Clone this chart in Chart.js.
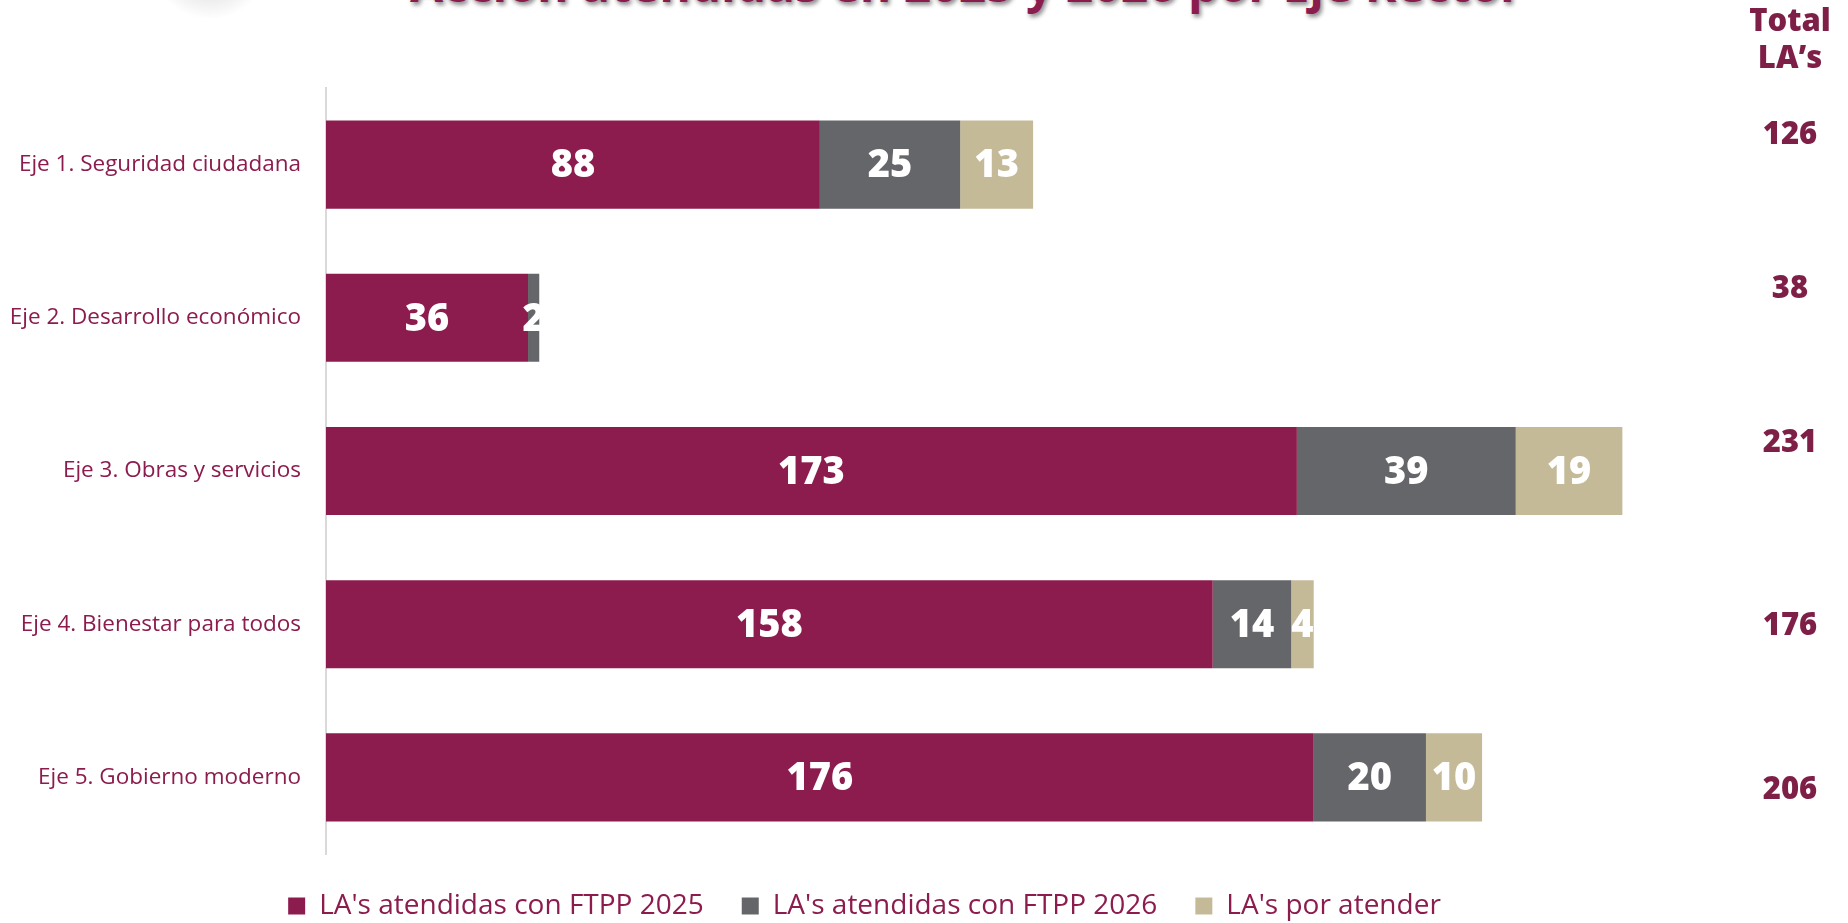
<!DOCTYPE html>
<html lang="es">
<head>
<meta charset="utf-8">
<title>LA's atendidas por Eje Rector</title>
<script src="https://cdn.jsdelivr.net/npm/chart.js@4.4.1/dist/chart.umd.min.js"></script>
<style>
  html, body { margin: 0; padding: 0; background: #fff; overflow: hidden; }
  #titulo {
    position: absolute; top: -40px; left: 0; width: 1932px;
    text-align: center; font: 700 48px/48px "Open Sans", sans-serif;
    color: #8b1c4e; text-shadow: 2px 3px 4px rgba(0,0,0,0.45);
    white-space: nowrap;
  }
  #logo {
    position: absolute; left: 150px; top: -100px; width: 120px; height: 120px;
    border-radius: 50%;
    background: radial-gradient(circle, rgba(120,120,120,0.5) 0%, rgba(160,160,160,0.2) 45%, rgba(255,255,255,0) 70%);
  }
  #contenedor { position: absolute; top: 0; left: 0; width: 1848px; height: 930px; }
</style>
</head>
<body>
<div id="logo"></div>
<div id="titulo">Acción atendidas en 2025 y 2026 por Eje Rector</div>
<div id="contenedor"><canvas id="grafico"></canvas></div>
<script>
// Datos del gráfico
const categorias = [
  "Eje 1. Seguridad ciudadana",
  "Eje 2. Desarrollo económico",
  "Eje 3. Obras y servicios",
  "Eje 4. Bienestar para todos",
  "Eje 5. Gobierno moderno"
];
const atendidas2025 = [88, 36, 173, 158, 176];
const atendidas2026 = [25, 2, 39, 14, 20];
const porAtender = [13, 0, 19, 4, 10];
const totales = [126, 38, 231, 176, 206];

const GUINDA = "#8c1c4e";
const TEXTO = "#7e1f47";

// Desplazamiento vertical de los totales respecto a cada barra
const desplazaTotales = [-29, -29, -28, 2, 13];

// Plugin: números dentro de las barras y columna de totales
const etiquetasPlugin = {
  id: "etiquetas",
  afterDatasetsDraw(chart) {
    const ctx = chart.ctx;
    ctx.save();
    ctx.font = "800 38px 'Open Sans'";
    ctx.fillStyle = "#fff";
    ctx.textAlign = "center";
    ctx.textBaseline = "middle";
    chart.data.datasets.forEach((ds, i) => {
      chart.getDatasetMeta(i).data.forEach((bar, j) => {
        const v = ds.data[j];
        if (!v) return;
        ctx.fillText(v, (bar.x + bar.base) / 2, bar.y + 2);
      });
    });

    // Totales a la derecha
    const y = chart.scales.y;
    const xTot = 1790;
    ctx.fillStyle = TEXTO;
    ctx.font = "800 31px 'Open Sans'";
    ctx.fillText("Total", xTot, 22);
    ctx.fillText("LA’s", xTot, 59);
    totales.forEach((t, j) => {
      ctx.fillText(t, xTot, y.getPixelForValue(j) + desplazaTotales[j]);
    });
    ctx.restore();
  }
};

const ctx = document.getElementById("grafico").getContext("2d");
new Chart(ctx, {
  type: "bar",
  data: {
    labels: categorias,
    datasets: [
      { label: "LA's atendidas con FTPP 2025", data: atendidas2025, backgroundColor: GUINDA },
      { label: "LA's atendidas con FTPP 2026", data: atendidas2026, backgroundColor: "#65666a" },
      { label: "LA's por atender", data: porAtender, backgroundColor: "#c4ba98" }
    ]
  },
  options: {
    indexAxis: "y",
    responsive: true,
    maintainAspectRatio: false,
    animation: false,
    layout: { padding: { top: 88, right: 119, left: 0, bottom: 0 } },
    datasets: { bar: { categoryPercentage: 1, barPercentage: 0.575, borderWidth: 0 } },
    scales: {
      x: { stacked: true, display: false, min: 0, max: 250 },
      y: {
        stacked: true,
        grid: { drawOnChartArea: false, drawTicks: false },
        border: { display: true, color: "#d9d9d9", width: 2 },
        ticks: { color: GUINDA, padding: 25, font: { family: "Open Sans", size: 22.5 } },
        afterFit: (scale) => { scale.width = 326; }
      }
    },
    plugins: {
      legend: {
        position: "bottom",
        labels: {
          boxWidth: 17,
          boxHeight: 17,
          padding: 38,
          color: GUINDA,
          font: { family: "Open Sans", size: 28 }
        }
      },
      tooltip: { enabled: false }
    }
  },
  plugins: [etiquetasPlugin]
});
</script>
</body>
</html>
